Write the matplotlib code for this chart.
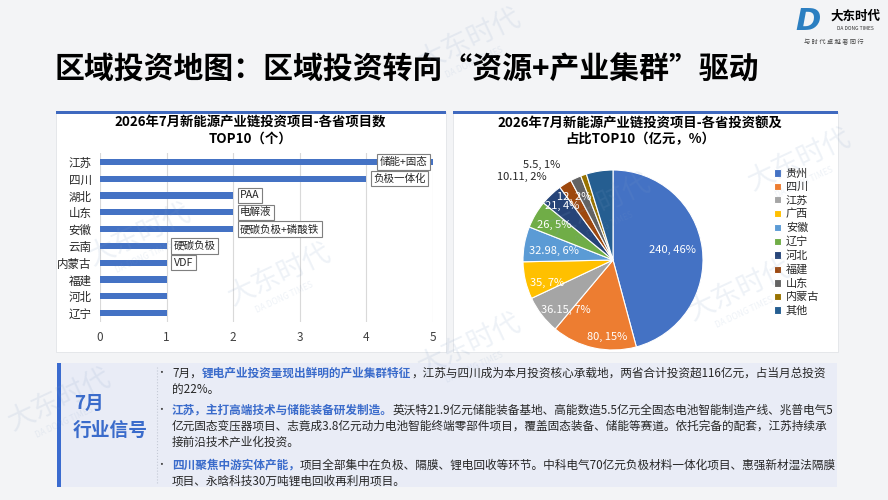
import numpy as np
import matplotlib
matplotlib.use('Agg')
from matplotlib import pyplot as plt
from matplotlib.patches import Rectangle
from matplotlib.lines import Line2D

plt.rcParams['font.family'] = ['Noto Sans CJK SC', 'DejaVu Sans']

# ---- data ----
title = '区域投资地图：区域投资转向“资源+产业集群”驱动'

bar_title = '2026年7月新能源产业链投资项目-各省项目数\nTOP10（个）'
bar_provinces = ['江苏', '四川', '湖北', '山东', '安徽', '云南', '内蒙古', '福建', '河北', '辽宁']
bar_counts = [5, 4, 2, 2, 2, 1, 1, 1, 1, 1]
bar_tags = ['储能+固态', '负极一体化', 'PAA', '电解液', '硬碳负极+磷酸铁', '硬碳负极', 'VDF', '', '', '']

pie_title = '2026年7月新能源产业链投资项目-各省投资额及\n占比TOP10（亿元，%）'
pie_provinces = ['贵州', '四川', '江苏', '广西', '安徽', '辽宁', '河北', '福建', '山东', '内蒙古', '其他']
pie_amounts = [240, 80, 36.15, 35, 32.98, 26, 21, 12, 10.11, 5.5, 25]
pie_colors = ['#4472C4', '#ED7D31', '#A5A5A5', '#FFC000', '#5B9BD5', '#70AD47',
              '#264478', '#9E480E', '#636363', '#997300', '#255E91']

signal_head = ['7月', '行业信号']
# each line: list of (text, highlighted)
signal_lines = [
    [('7月，', False), ('锂电产业投资量现出鲜明的产业集群特征', True),
     ('，江苏与四川成为本月投资核心承载地，两省合计投资超116亿元，占当月总投资', False)],
    [('的22%。', False)],
    [('江苏，主打高端技术与储能装备研发制造。', True),
     ('英沃特21.9亿元储能装备基地、高能数造5.5亿元全固态电池智能制造产线、兆普电气5', False)],
    [('亿元固态变压器项目、志竟成3.8亿元动力电池智能终端零部件项目，覆盖固态装备、储能等赛道。依托完备的配套，江苏持续承', False)],
    [('接前沿技术产业化投资。', False)],
    [('四川聚焦中游实体产能，', True),
     ('项目全部集中在负极、隔膜、锂电回收等环节。中科电气70亿元负极材料一体化项目、惠强新材湿法隔膜', False)],
    [('项目、永晗科技30万吨锂电回收再利用项目。', False)],
]
bullet_starts = [0, 2, 5]

W, H = 888, 500


def fx(x):
    return x / W


def fy(y):
    return 1 - y / H


def box(x0, y0, x1, y1, **kw):
    r = Rectangle((fx(x0), fy(y1)), (x1 - x0) / W, (y1 - y0) / H,
                  transform=fig.transFigure, zorder=-5, **kw)
    fig.add_artist(r)
    return r


fig = plt.figure(figsize=(8.88, 5), dpi=100)
fig.patch.set_facecolor('#F3F4F6')

# title and logo
fig.text(fx(55), fy(70), title, fontsize=21.5, fontweight='heavy', color='black', va='center')
fig.text(fx(808), fy(21), 'D', fontsize=22, fontweight='bold', fontstyle='italic',
         color='#2C7FC1', ha='center', va='center', family='DejaVu Sans')
fig.text(fx(830), fy(16), '大东时代', fontsize=9, fontweight='bold', va='center')
fig.text(fx(855), fy(29), 'DA DONG TIMES', fontsize=3.5, ha='center', va='center', color='#333333')
fig.text(fx(834), fy(42), '与 时 代 卓 越 者 同 行', fontsize=4.5, ha='center', va='center',
         color='#444444')

# panels
for x0, x1 in [(56, 446), (453, 838)]:
    box(x0, 112, x1, 352, facecolor='white', edgecolor='#E2E4E8', linewidth=0.6)
    box(x0, 111, x1, 114, facecolor='#3F69BF', edgecolor='none')

# ---- bar chart ----
ax1 = fig.add_axes([fx(100), fy(321.5), 333 / W, 168 / H])
ax1.set_facecolor('none')
y = np.arange(len(bar_provinces))
ax1.barh(y, bar_counts, height=0.38, color='#4472C4', zorder=2)
ax1.set_xlim(0, 5)
ax1.set_ylim(9.5, -0.5)
ax1.set_yticks(y)
ax1.set_yticklabels(bar_provinces, fontsize=8.3, color='#262626')
ax1.set_xticks(range(6))
ax1.tick_params(axis='x', labelsize=8.5, colors='#404040', length=0, pad=7)
ax1.tick_params(axis='y', length=0, pad=6)
ax1.grid(axis='x', color='#D9D9D9', linewidth=0.8, zorder=0)
for s in ax1.spines.values():
    s.set_visible(False)
for i, (c, tag) in enumerate(zip(bar_counts, bar_tags)):
    if not tag:
        continue
    if c == max(bar_counts):
        off, ha = -4, 'right'
    else:
        off, ha = 5, 'left'
    ax1.annotate(tag, (c, i), xytext=(off, 0), textcoords='offset points', ha=ha, va='center',
                 fontsize=7.6, color='#262626', zorder=3, annotation_clip=False,
                 bbox=dict(boxstyle='square,pad=0.25', fc='white', ec='#7F7F7F', lw=0.8))
fig.text(fx(250), fy(131), bar_title, fontsize=9.6, fontweight='bold', ha='center', va='center',
         linespacing=1.2)

# ---- pie chart ----
ax2 = fig.add_axes([fx(523), fy(350), 180 / W, 180 / H])
wedges, _ = ax2.pie(pie_amounts, colors=pie_colors, startangle=90, counterclock=False,
                    wedgeprops=dict(edgecolor='white', linewidth=0.8), radius=1)
ax2.set_xlim(-1, 1)
ax2.set_ylim(-1, 1)
total = sum(pie_amounts)
label_r = [0.67, 0.86, 0.77, 0.77, 0.66, 0.76, 0.82, 0.82, 1.37, 1.32]
label_turn = [2, 8, 9, 6, 1, 0, 0, 0, 23, 18]
for i in range(10):
    w = wedges[i]
    ang = np.deg2rad((w.theta1 + w.theta2) / 2 + label_turn[i])
    r = label_r[i]
    col = 'white' if r < 1 else '#262626'
    ax2.text(r * np.cos(ang), r * np.sin(ang),
             f'{pie_amounts[i]:g}, {round(pie_amounts[i] / total * 100)}%',
             ha='center', va='center', fontsize=8, color=col, clip_on=False)
ax2.legend(wedges, pie_provinces, loc='upper left', bbox_to_anchor=(fx(768), fy(163)),
           bbox_transform=fig.transFigure, frameon=False, fontsize=8, handlelength=0.65,
           handleheight=0.65, handletextpad=0.45, labelspacing=0.3, borderpad=0,
           labelcolor='#262626')
fig.text(fx(640), fy(131), pie_title, fontsize=9.6, fontweight='bold', ha='center', va='center',
         linespacing=1.2)

# ---- signal box ----
box(57, 363, 837, 487, facecolor='#E9ECF6', edgecolor='none')
box(57, 363, 61, 487, facecolor='#3A6BCF', edgecolor='none')
fig.add_artist(Line2D([fx(157), fx(157)], [fy(367), fy(484)], transform=fig.transFigure,
                      color='#C5CAD6', linewidth=0.8, linestyle=':'))
fig.text(fx(74), fy(403), signal_head[0], fontsize=13.5, fontweight='bold', color='#3A6BCB',
         va='center')
fig.text(fx(73), fy(430), signal_head[1], fontsize=13.5, fontweight='bold', color='#3A6BCB',
         va='center')

line_y = [373, 389, 410, 426, 442, 465, 481]
renderer = fig.canvas.get_renderer()
for k, (segs, ly) in enumerate(zip(signal_lines, line_y)):
    if k in bullet_starts:
        fig.text(fx(161), fy(ly), '•', fontsize=7, color='#404040', ha='center', va='center')
    x = fx(172)
    for txt, hl in segs:
        t = fig.text(x, fy(ly), txt, fontsize=8.4, va='center',
                     color='#3A6BCB' if hl else '#262626',
                     fontweight='bold' if hl else 'normal')
        bb = t.get_window_extent(renderer=renderer)
        x = bb.x1 / fig.bbox.width

# faint watermarks
marks = [(470, 40), (140, 235), (600, 205), (280, 275), (740, 290), (60, 400), (470, 345),
         (800, 160)]
for mx, my in marks:
    fig.text(fx(mx), fy(my), '大东时代', fontsize=20, rotation=25, color='#7D9CC4', alpha=0.13,
             ha='center', va='center')
    fig.text(fx(mx + 4), fy(my + 22), 'DA DONG TIMES', fontsize=6, rotation=25, color='#7D9CC4',
             alpha=0.13, ha='center', va='center')

fig.savefig('out.png', dpi=100)
